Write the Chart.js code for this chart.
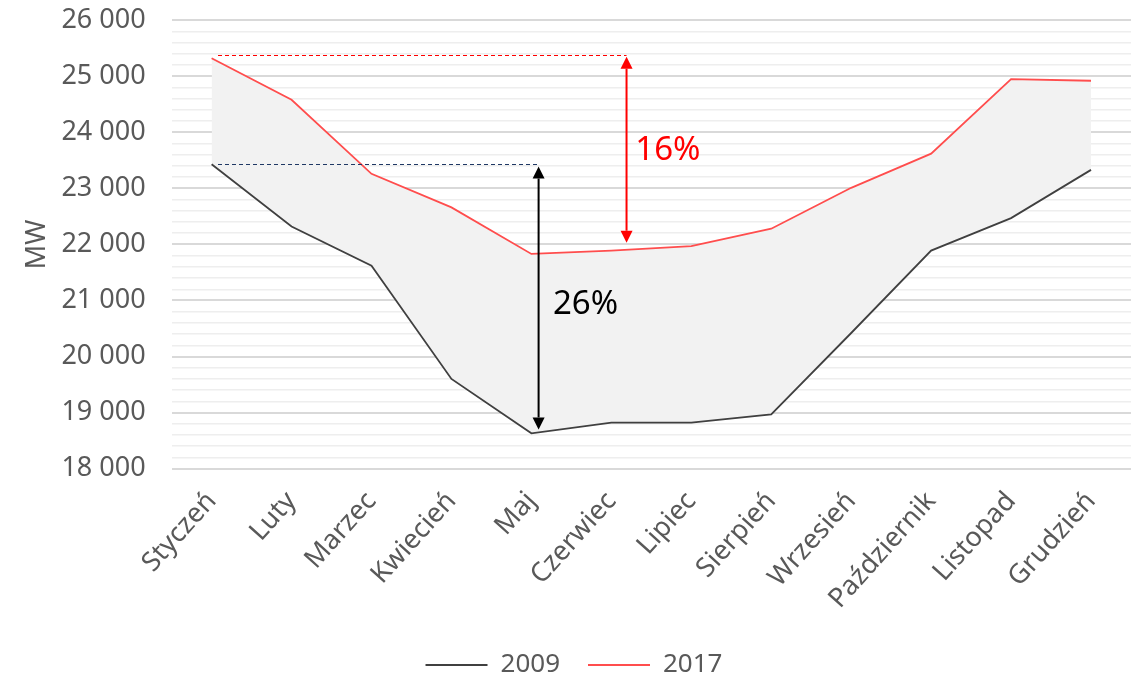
<!DOCTYPE html>
<html>
<head>
<meta charset="utf-8">
<script src="https://cdn.jsdelivr.net/npm/chart.js@4"></script>
<style>
  html, body { margin: 0; padding: 0; background: #fff; }
  #wrap { width: 1141px; height: 676px; }
</style>
</head>
<body>
<div id="wrap"><canvas id="mwChart" width="1141" height="676"></canvas></div>
<script>
const months = ['Styczeń', 'Luty', 'Marzec', 'Kwiecień', 'Maj', 'Czerwiec', 'Lipiec',
  'Sierpień', 'Wrzesień', 'Październik', 'Listopad', 'Grudzień'];
const load2009 = [23430, 22320, 21620, 19600, 18630, 18820, 18820, 18970, 20420, 21890, 22470, 23330];
const load2017 = [25320, 24580, 23260, 22660, 21830, 21890, 21970, 22280, 23010, 23620, 24950, 24920];

// dashed guide lines: [fromIndex, toIndex, value, color]
const guides = [
  [0.08, 4.09, 23430, '#1f3864'],
  [0.08, 5.19, 25380, '#ff0000']
];
// double arrows: [index, fromValue, toValue, color]
const arrows = [
  [4.09, 23390, 18700, '#000000'],
  [5.19, 25350, 22030, '#ff0000']
];
// change labels: [text, index, value, color]
const notes = [
  ['16%', 5.3, 23680, '#ff0000'],
  ['26%', 4.27, 20930, '#000000']
];

const FONT = "'Noto Sans', 'Open Sans', sans-serif";
const GREY = '#595959';

function xAt(scale, idx) {
  const i = Math.floor(idx);
  const a = scale.getPixelForValue(i);
  const b = scale.getPixelForValue(i + 1);
  return a + (b - a) * (idx - i);
}

const markup = {
  id: 'markup',
  afterDatasetsDraw(chart) {
    const ctx = chart.ctx;
    const xs = chart.scales.x, ys = chart.scales.y;
    ctx.save();
    guides.forEach(([f, t, v, c]) => {
      const y = Math.round(ys.getPixelForValue(v)) + 0.5;
      ctx.strokeStyle = c;
      ctx.lineWidth = 1;
      ctx.setLineDash([4, 3]);
      ctx.beginPath();
      ctx.moveTo(xAt(xs, f), y);
      ctx.lineTo(xAt(xs, t), y);
      ctx.stroke();
    });
    ctx.setLineDash([]);
    arrows.forEach(([i, v1, v2, c]) => {
      const x = xAt(xs, i);
      const y1 = ys.getPixelForValue(v1), y2 = ys.getPixelForValue(v2);
      const head = 12, half = 6;
      ctx.strokeStyle = c;
      ctx.fillStyle = c;
      ctx.lineWidth = 2;
      ctx.beginPath();
      ctx.moveTo(x, y1 + head);
      ctx.lineTo(x, y2 - head);
      ctx.stroke();
      ctx.beginPath();
      ctx.moveTo(x, y1); ctx.lineTo(x - half, y1 + head); ctx.lineTo(x + half, y1 + head);
      ctx.closePath(); ctx.fill();
      ctx.beginPath();
      ctx.moveTo(x, y2); ctx.lineTo(x - half, y2 - head); ctx.lineTo(x + half, y2 - head);
      ctx.closePath(); ctx.fill();
    });
    ctx.font = '33px ' + FONT;
    ctx.textBaseline = 'middle';
    ctx.textAlign = 'left';
    notes.forEach(([txt, i, v, c]) => {
      ctx.fillStyle = c;
      ctx.fillText(txt, xAt(xs, i), ys.getPixelForValue(v));
    });
    ctx.restore();
  }
};

new Chart(document.getElementById('mwChart'), {
  type: 'line',
  data: {
    labels: months,
    datasets: [
      {
        label: '2009',
        data: load2009,
        borderColor: '#404040',
        borderWidth: 1.8,
        pointRadius: 0,
        tension: 0,
        fill: false
      },
      {
        label: '2017',
        data: load2017,
        borderColor: '#ff4d4d',
        borderWidth: 1.8,
        pointRadius: 0,
        tension: 0,
        fill: '-1',
        backgroundColor: '#f2f2f2'
      }
    ]
  },
  options: {
    responsive: false,
    animation: false,
    layout: { padding: { left: 17, right: 10, top: 0, bottom: -12 } },
    plugins: {
      tooltip: { enabled: false },
      legend: {
        position: 'bottom',
        labels: {
          usePointStyle: true,
          pointStyle: 'line',
          pointStyleWidth: 62,
          padding: 28,
          color: GREY,
          font: { family: FONT, size: 26 }
        }
      }
    },
    scales: {
      x: {
        offset: true,
        grid: { display: false },
        border: { display: false },
        afterFit: s => { s.paddingLeft = 0; },
        ticks: {
          minRotation: 48,
          maxRotation: 48,
          autoSkip: false,
          color: GREY,
          padding: 9,
          font: { family: FONT, size: 27 }
        }
      },
      y: {
        min: 18000,
        max: 26000,
        border: { display: false },
        title: {
          display: true,
          text: 'MW',
          color: GREY,
          padding: { top: 4, bottom: 4 },
          font: { family: FONT, size: 27 }
        },
        grid: {
          drawTicks: true,
          tickLength: 22,
          tickColor: 'rgba(0,0,0,0)',
          color: c => (c.tick && c.tick.value % 1000 === 0) ? '#d9d9d9' : '#eeeeee',
          lineWidth: c => (c.tick && c.tick.value % 1000 === 0) ? 2 : 1.5
        },
        ticks: {
          stepSize: 200,
          autoSkip: false,
          padding: 4,
          color: GREY,
          font: { family: FONT, size: 27 },
          callback: v => v % 1000 === 0 ? String(v).replace(/\B(?=(\d{3})+(?!\d))/g, ' ') : ''
        }
      }
    }
  },
  plugins: [markup]
});
</script>
</body>
</html>
